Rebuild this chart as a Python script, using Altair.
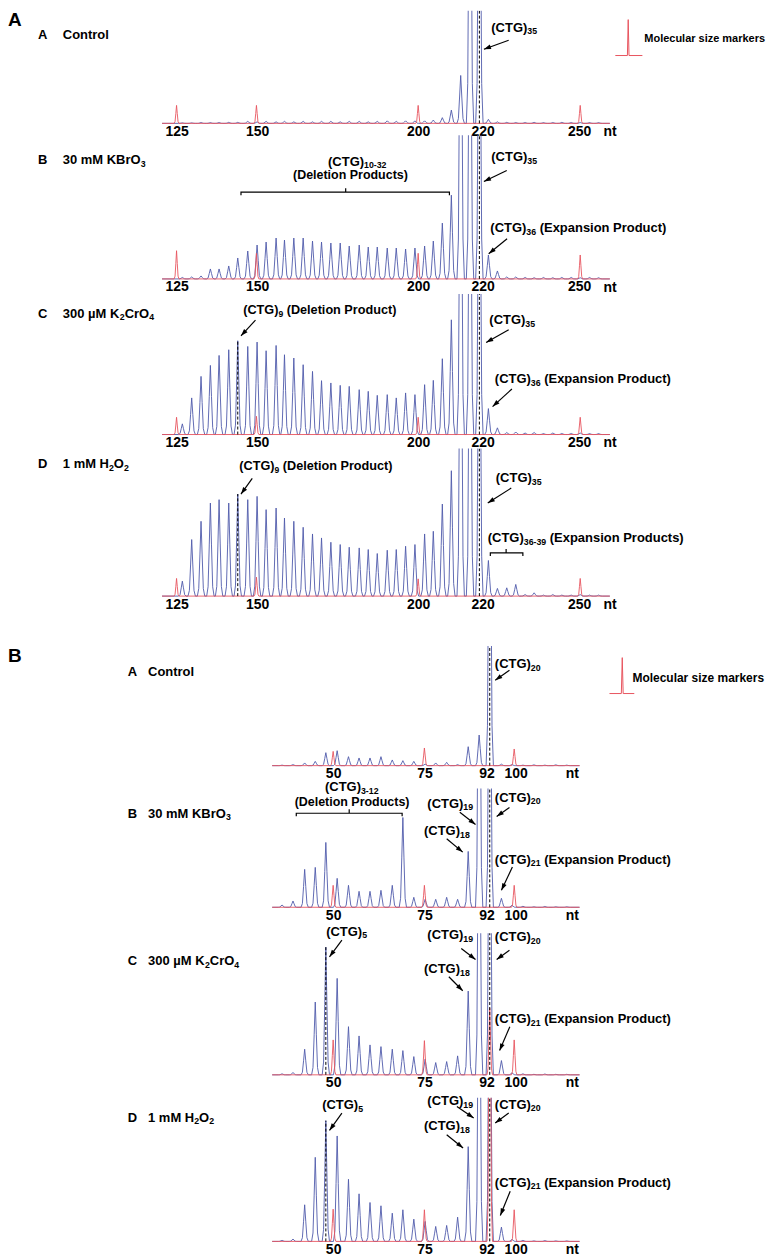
import math
import re
import altair as alt
import pandas as pd

FONT = "Liberation Sans, Arial, Helvetica, sans-serif"
BLUE = "#4f5bab"
RED = "#e8555f"

# ---------------- Section A : (CTG)n peaks, n = 3..48 (nt) ----------------
A_POS = [126.8, 129.7, 132.6, 135.5, 138.2, 141.2, 144.0, 147.1, 150.0, 152.8,
         155.9, 158.5, 161.4, 164.3, 167.2, 170.0, 172.9, 175.8, 178.6, 181.7,
         184.5, 187.3, 190.4, 193.2, 196.1, 199.0, 202.0, 204.7, 207.5, 210.3,
         213.2, 216.1, 219.0, 221.8, 224.6, 227.5, 230.3, 233.2, 236.0, 238.9,
         241.8, 244.6, 247.5, 250.3, 253.2, 256.0]
A_CONTROL = [0.5, 0.5, 0.8, 0.8, 0.8, 1.0, 1.0,
             2.0, 1.5, 2.0, 1.5, 2.0, 1.5, 2.0, 1.5, 2.0, 2.0, 1.5, 2.0, 2.0, 1.5, 2.0, 2.5, 2.0, 2.5, 2.5,
             2.5, 3.3, 5.7, 13.3, 48.0, 400, 400, 4.0, 1.5,
             1.0, 0.8, 0.8, 1.0, 0.8, 0.8, 1.0, 0.8, 0.8, 0.8, 0.8]
A_KBRO3 = [1.5, 2.0, 3.0, 10.0, 10.0, 13.0, 21.0, 28.0, 34.0, 37.0,
           41.0, 39.0, 41.0, 41.0, 38.0, 37.0, 36.0, 36.0, 33.0, 34.0,
           32.0, 32.0, 31.0, 31.0, 30.0, 31.0, 33.0, 38.0, 56.0, 84.0,
           400, 400, 400, 24.0, 8.0, 2.0, 2.0,
           1.5, 1.2, 1.5, 1.2, 1.5, 1.5, 1.2, 1.5, 1.2]
A_K2CRO4 = [10.7, 36.7, 58.3, 69.3, 79.3, 85.0, 94.0, 88.3, 92.7, 84.0,
            89.3, 80.0, 76.7, 70.0, 63.3, 54.0, 51.7, 49.3, 48.3, 45.0,
            43.3, 39.3, 40.0, 36.7, 41.7, 40.0, 50.0, 54.3, 76.0, 115.0,
            400, 400, 400, 26.0, 6.7, 2.0, 2.5,
            1.5, 2.0, 1.0, 1.5, 1.0, 1.0, 1.5, 1.0, 1.0]
A_H2O2 = [15.0, 56.7, 75.0, 93.3, 96.7, 93.3, 102.3, 96.7, 100.0, 86.7,
          88.3, 78.3, 75.0, 69.0, 62.3, 58.3, 54.0, 51.7, 49.0, 48.3,
          46.7, 42.7, 46.0, 46.7, 50.0, 51.7, 62.3, 65.0, 92.3, 125.7,
          400, 400, 400, 35.7, 7.7, 8.3, 11.7,
          1.5, 3.3, 1.0, 1.5, 1.0, 1.0, 1.5, 1.0, 1.0]
A_MARKER_POS = [125.0, 149.8, 200.0, 250.3]
A_MARKER_H = {"control": [18, 18, 18, 18], "kbro3": [28.3, 25.7, 25.7, 24.0],
              "k2cro4": [17.3, 18.3, 17.3, 17.3], "h2o2": [17.7, 19.0, 17.3, 17.7]}
A_TICKS = [125, 150, 200, 220, 250]

# ---------------- Section B : (CTG)n peaks, n = 1..27 (nt) ----------------
B_POS = [36.0, 39.0, 42.2, 45.1, 48.0, 51.1, 54.2, 57.1, 60.1, 63.1,
         66.2, 69.1, 72.1, 75.2, 78.1, 81.1, 84.1, 87.0, 90.0, 92.9,
         96.1, 99.0, 102.0, 105.0, 108.0, 111.0, 114.0]
B_CONTROL = [0.5, 1.0, 2.7, 4.3, 13.0, 15.0, 9.0, 7.7, 7.7, 9.0,
             5.7, 5.0, 4.3, 1.5, 2.7, 3.3, 1.0, 19.0, 30.7, 400,
             1.5, 1.0, 0.5, 0.8, 0.5, 0.8, 0.5]
B_KBRO3 = [2.3, 6.3, 38.0, 40.0, 65.0, 29.0, 22.0, 16.0, 16.0, 17.0,
           22.0, 90.0, 10.0, 8.0, 8.0, 10.0, 8.0, 56.0, 400, 400,
           9.0, 2.0, 1.0, 0.5, 0.8, 0.5, 0.5]
B_K2CRO4 = [1.0, 2.3, 25.7, 73.0, 128.0, 96.7, 48.3, 39.0, 30.0, 28.3,
            25.7, 24.3, 18.3, 15.7, 12.3, 13.3, 19.0, 84.0, 400, 400,
            14.3, 2.0, 1.0, 0.5, 0.8, 0.5, 0.5]
B_H2O2 = [1.0, 2.3, 36.7, 84.3, 121.0, 105.7, 62.3, 47.7, 39.0, 35.7,
          28.3, 31.7, 22.3, 20.0, 15.0, 16.0, 24.3, 95.0, 400, 400,
          14.3, 2.0, 1.0, 0.5, 0.8, 0.5, 0.5]
B_MARKER_POS = [50.0, 75.0, 99.6]
B_MARKER_H = {"control": [14.3, 17.7, 16.7], "kbro3": [22, 22, 22],
              "k2cro4": [35.0, 34.3, 35.0], "h2o2": [32.3, 31.7, 31.7]}
B_PULLUP_POS = 92.9
B_PULLUP_H = {"control": 0, "kbro3": 0, "k2cro4": 67.0, "h2o2": 400}
B_TICKS = [50, 75, 92, 100]

for arr in (A_CONTROL, A_KBRO3, A_K2CRO4, A_H2O2):
    assert len(arr) == len(A_POS), len(arr)
for arr in (B_CONTROL, B_KBRO3, B_K2CRO4, B_H2O2):
    assert len(arr) == len(B_POS), len(arr)

# peak outline (style): offsets in half-widths, fraction of peak height
OFFS = [-1.0, -0.62, -0.3, 0.0, 0.3, 0.62, 1.0]
FRACS = [0.0, 0.1, 0.55, 1.0, 0.55, 0.1, 0.0]

W = 758
A_DOM = [72.678, 307.353]
B_DOM = [-39.071, 168.033]
ARROW = "M0,0L0.5,1.5L-0.5,1.5Z"

# Arial/Liberation Sans Bold advance widths (per 1000 em) for text layout
AW = {' ': 278, '(': 333, ')': 333, '-': 333, 'A': 722, 'B': 722, 'C': 722, 'D': 722,
      'E': 667, 'G': 778, 'H': 722, 'K': 722, 'M': 833, 'O': 778, 'P': 667, 'T': 611,
      'a': 556, 'c': 556, 'd': 611, 'e': 556, 'i': 278, 'k': 556, 'l': 278, 'm': 889,
      'n': 611, 'o': 611, 'p': 611, 'r': 389, 's': 556, 't': 333, 'u': 611, 'x': 556,
      'z': 500, 'µ': 611}
for _d in "0123456789":
    AW[_d] = 556


def text_width(s, size):
    return sum(AW.get(c, 600) for c in s) * size / 1000.0


def ctg(n, rest=""):
    return "(CTG)_{" + str(n) + "}" + rest


def trace_df(pos, hts, lo, hi, half):
    pts = [(lo, 0.0)]
    for p, h in sorted(zip(pos, hts)):
        if h <= 0:
            continue
        for o, f in zip(OFFS, FRACS):
            pts.append((p + o * half, h * f))
    pts.append((hi, 0.0))
    return pd.DataFrame({"x": [a for a, _ in pts], "y": [b for _, b in pts],
                         "i": list(range(len(pts)))})


PANELS = [
    dict(sec="A", key="control", hts=A_CONTROL, top=8, base=121, bottom=133,
         letter=("A", 104), lab=("A", "Control", 89),
         texts=[(222.7, 96, ctg(35), 13, "left")],
         arrows=[(228.1, 83.3, 220.4, 74.3)],
         brackets=[], dashes=[(219.0, 400)],
         legend=(270.2, 85, 11, 265.2, 68, 104, 261.2, 269.6)),
    dict(sec="A", key="kbro3", hts=A_KBRO3, top=133, base=277, bottom=292,
         lab=("B", "30 mM KBrO_{3}", 119),
         texts=[(181.1, 117.7, ctg("10-32"), 13, "center"),
                (179.0, 103.7, "(Deletion Products)", 12.5, "center"),
                (222.7, 122, ctg(35), 13, "left"),
                (222.4, 51, ctg(36, " (Expansion Product)"), 13, "left")],
         arrows=[(227.5, 108.7, 220.4, 97.7), (227.6, 40.3, 221.9, 25.3)],
         brackets=[(145.0, 209.7, 87, 177.5)], dashes=[(219.0, 400)]),
    dict(sec="A", key="k2cro4", hts=A_K2CRO4, top=292, base=433, bottom=447,
         lab=("C", "300 µM K_{2}CrO_{4}", 121),
         texts=[(145.7, 124.7, ctg(9, " (Deletion Product)"), 12.7, "left"),
                (222.1, 114.7, ctg(35), 13, "left"),
                (223.8, 55.7, ctg(36, " (Expansion Product)"), 13, "left")],
         arrows=[(149.5, 114.7, 145.0, 99), (228.1, 105, 221.1, 92.3),
                 (229.1, 45.7, 223.1, 28)],
         brackets=[], dashes=[(144.0, 94), (219.0, 400)]),
    dict(sec="A", key="h2o2", hts=A_H2O2, top=447, base=595, bottom=645,
         lab=("D", "1 mM H_{2}O_{2}", 132),
         texts=[(144.5, 130, ctg(9, " (Deletion Product)"), 12.7, "left"),
                (224.1, 118.3, ctg(35), 13, "left"),
                (221.6, 58.3, ctg("36-39", " (Expansion Products)"), 13, "left")],
         arrows=[(148.5, 118, 145.0, 102.3), (228.9, 108.3, 221.6, 93.3)],
         brackets=[(222.4, 232.5, 43.3, 227.3)], dashes=[(144.0, 102.3), (219.0, 400)]),
    dict(sec="B", key="control", hts=B_CONTROL, top=645, base=765, bottom=788,
         letter=("B", 110), lab=("A", "Control", 94),
         texts=[(94.3, 101.7, ctg(20), 13, "left")],
         arrows=[(98.3, 95.7, 94.4, 85.7)],
         brackets=[], dashes=[(92.9, 400)],
         legend=(132.0, 88.3, 12, 129.2, 72.3, 108.3, 125.7, 132.5)),
    dict(sec="B", key="kbro3", hts=B_KBRO3, top=788, base=907, bottom=933,
         lab=("B", "30 mM KBrO_{3}", 94),
         texts=[(55.1, 120.3, ctg("3-12"), 13, "center"),
                (55.2, 105.3, "(Deletion Products)", 12.5, "center"),
                (75.8, 104, ctg(19), 13, "left"), (94.3, 110, ctg(20), 13, "left"),
                (74.9, 76.3, ctg(18), 13, "left"),
                (94.3, 47.7, ctg(21, " (Expansion Product)"), 13, "left")],
         arrows=[(84.7, 95.3, 89.0, 83), (98.3, 100, 94.8, 91),
                 (81.1, 68.7, 85.5, 55.3), (99.1, 40.3, 96.1, 17)],
         brackets=[(39.9, 68.9, 94.3, 54.4)], dashes=[(92.9, 400)]),
    dict(sec="B", key="k2cro4", hts=B_K2CRO4, top=933, base=1075, bottom=1098,
         lab=("C", "300 µM K_{2}CrO_{4}", 114),
         texts=[(48.1, 143.3, ctg(5), 13, "left"), (75.8, 140, ctg(19), 13, "left"),
                (94.3, 137.7, ctg(20), 13, "left"), (74.9, 105.7, ctg(18), 13, "left"),
                (94.3, 55.7, ctg(21, " (Expansion Product)"), 13, "left")],
         arrows=[(52.4, 135, 49.0, 118.3), (85.1, 126.7, 89.0, 115.7),
                 (98.3, 125, 94.8, 115.7), (81.7, 98.3, 85.5, 84.3),
                 (98.4, 48.3, 95.6, 24.3)],
         brackets=[], dashes=[(48.0, 128), (92.9, 400)]),
    dict(sec="B", key="h2o2", hts=B_H2O2, top=1098, base=1242, bottom=1257,
         lab=("D", "1 mM H_{2}O_{2}", 124),
         texts=[(47.0, 136.3, ctg(5), 13, "left"), (75.8, 140.3, ctg(19), 13, "left"),
                (94.3, 137, ctg(20), 13, "left"), (74.9, 115.3, ctg(18), 13, "left"),
                (94.3, 58.7, ctg(21, " (Expansion Product)"), 13, "left")],
         arrows=[(52.4, 128.7, 49.0, 111.3), (83.9, 135.3, 88.5, 123.7),
                 (98.1, 128.7, 94.4, 118.7), (81.1, 107, 85.6, 93.7),
                 (98.5, 50.3, 95.8, 26)],
         brackets=[], dashes=[(48.0, 121), (92.9, 400)]),
]


def layout_text(x, y, markup, size, align, ppn, rows):
    """Split '_{..}' subscripts into separate smaller text pieces, laid out left to right."""
    parts = re.split(r"(_\{[^}]*\})", markup)
    segs = []
    for p in parts:
        if not p:
            continue
        if p.startswith("_{"):
            segs.append((p[2:-1], round(size * 0.68, 1), True))
        else:
            segs.append((p, size, False))
    total = sum(text_width(s, sz) for s, sz, _ in segs)
    cx = x - (total / 2.0) / ppn if align == "center" else x
    for s, sz, sub in segs:
        stripped = s.lstrip(" ")
        cx += text_width(s[:len(s) - len(stripped)], sz) / ppn
        rows.append({"x": cx, "y": y - (3.6 if sub else 0), "t": stripped, "s": sz})
        cx += text_width(stripped, sz) / ppn


def panel(cfg):
    secA = cfg["sec"] == "A"
    dom = A_DOM if secA else B_DOM
    ppn = W / (dom[1] - dom[0])
    h = cfg["bottom"] - cfg["top"]
    ydom = [cfg["base"] - cfg["bottom"], cfg["base"] - cfg["top"]]
    xs = alt.Scale(domain=dom, nice=False, zero=False)
    ys = alt.Scale(domain=ydom, nice=False, zero=False)
    ax = alt.Axis(values=A_TICKS if secA else B_TICKS, title=None, domain=False,
                  ticks=False, tickSize=0, grid=False, labelFont=FONT,
                  labelFontSize=14, labelFontWeight="bold", labelColor="black",
                  labelPadding=1, offset=-(cfg["bottom"] - cfg["base"]),
                  labelFlush=False, labelOverlap=False, format="d")

    def X(f="x"):
        return alt.X(f"{f}:Q", scale=xs, axis=ax)

    def Y(f="y"):
        return alt.Y(f"{f}:Q", scale=ys, axis=None)

    layers = []
    pos = A_POS if secA else B_POS
    lo, hi = (120.5, 259.5) if secA else (33.3, 117.5)
    half = 1.15 if secA else 1.0
    blue = trace_df(pos, cfg["hts"], lo, hi, half)
    layers.append(alt.Chart(blue).mark_line(color=BLUE, strokeWidth=0.9, clip=True)
                  .encode(x=X(), y=Y(), order="i:Q"))
    mpos = list(A_MARKER_POS if secA else B_MARKER_POS)
    mh = list((A_MARKER_H if secA else B_MARKER_H)[cfg["key"]])
    if not secA and B_PULLUP_H[cfg["key"]] > 0:
        mpos.append(B_PULLUP_POS)
        mh.append(B_PULLUP_H[cfg["key"]])
    red = trace_df(mpos, mh, lo, hi, 0.75)
    layers.append(alt.Chart(red).mark_line(color=RED, strokeWidth=0.9, clip=True)
                  .encode(x=X(), y=Y(), order="i:Q"))

    dd = pd.DataFrame({"x": [d[0] for d in cfg["dashes"]], "y0": 0.0,
                       "y1": [d[1] for d in cfg["dashes"]]})
    layers.append(alt.Chart(dd).mark_rule(color="black", strokeWidth=1,
                                          strokeDash=[3, 2], clip=True)
                  .encode(x=X(), y=Y("y0"), y2="y1:Q"))

    # text annotations
    rows = []
    for (x, y, t, s, al) in cfg["texts"]:
        layout_text(x, y, t, s, al, ppn, rows)
    lx = (82.0, 89.7) if secA else (-6.3, -0.7)
    letter, desc, ly = cfg["lab"]
    layout_text(lx[0], ly, letter, 13, "left", ppn, rows)
    layout_text(lx[1], ly, desc, 13, "left", ppn, rows)
    layout_text(257.5 if secA else 113.7, -8.6, "nt", 14, "left", ppn, rows)
    if "letter" in cfg:
        layout_text(dom[0], cfg["letter"][1], cfg["letter"][0], 19, "left", ppn, rows)
    if "legend" in cfg:
        g = cfg["legend"]
        layout_text(g[0], g[1], "Molecular size markers", g[2], "left", ppn, rows)
        ic = pd.DataFrame({"x": [g[6], g[3] - 0.25, g[3], g[3] + 0.25, g[7]],
                           "y": [g[4], g[4], g[5], g[4], g[4]], "i": range(5)})
        layers.append(alt.Chart(ic).mark_line(color=RED, strokeWidth=1)
                      .encode(x=X(), y=Y(), order="i:Q"))
    tdf = pd.DataFrame(rows)
    layers.append(alt.Chart(tdf).mark_text(font=FONT, fontWeight="bold", align="left",
                                           baseline="middle", color="black")
                  .encode(x=X(), y=Y(), text="t:N", size=alt.Size("s:Q", scale=None)))

    # arrows
    ar = cfg["arrows"]
    adf = pd.DataFrame({"x1": [a[0] for a in ar], "y1": [a[1] for a in ar],
                        "x2": [a[2] for a in ar], "y2": [a[3] for a in ar]})
    adf["a"] = [math.degrees(math.atan2((a[2] - a[0]) * ppn, (a[3] - a[1]))) % 360
                for a in ar]
    layers.append(alt.Chart(adf).mark_rule(color="black", strokeWidth=1.2)
                  .encode(x=X("x1"), y=Y("y1"), x2="x2:Q", y2="y2:Q"))
    layers.append(alt.Chart(adf).mark_point(shape=ARROW, filled=True, color="black",
                                            size=90, opacity=1, strokeWidth=0)
                  .encode(x=X("x2"), y=Y("y2"), angle=alt.Angle("a:Q", scale=None)))

    # brackets
    if cfg["brackets"]:
        brows = []
        for b, (x1, x2, y, xc) in enumerate(cfg["brackets"]):
            seq = [(x1, y - 3), (x1, y), (xc, y), (xc, y + 4), (xc, y), (x2, y), (x2, y - 3)]
            for o, (xx, yy) in enumerate(seq):
                brows.append({"b": b, "o": o, "x": xx, "y": yy})
        bdf = pd.DataFrame(brows)
        layers.append(alt.Chart(bdf).mark_line(color="black", strokeWidth=1.2)
                      .encode(x=X(), y=Y(), detail="b:N", order="o:Q"))

    return alt.layer(*layers).properties(width=W, height=h)


chart = alt.vconcat(*[panel(c) for c in PANELS], spacing=0, bounds="flush").properties(
    padding=0, background="white").configure_view(strokeWidth=0, stroke="transparent")

chart.save("out.html", embed_options={"renderer": "svg", "actions": False})
